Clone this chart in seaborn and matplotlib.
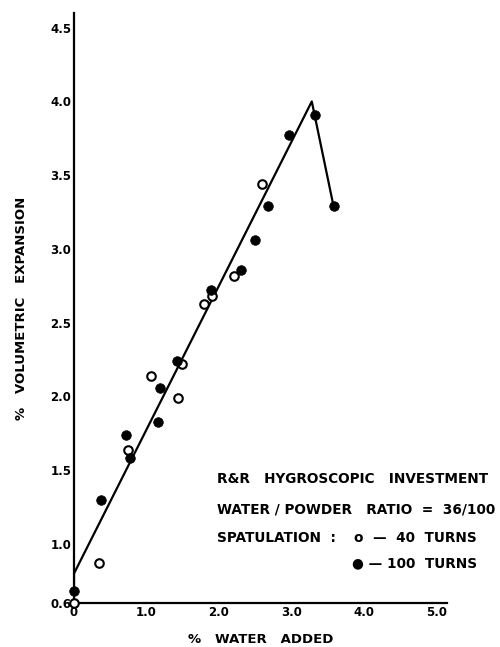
import matplotlib
matplotlib.use("Agg")
import matplotlib.pyplot as plt
import seaborn as sns
import pandas as pd

# % water added / % volumetric expansion, 40-turn spatulation (open circles)
water_40 = [0.00, 0.34, 0.74, 1.06, 1.44, 1.49, 1.79, 1.91, 2.21, 2.59]
expansion_40 = [0.60, 0.87, 1.64, 2.14, 1.99, 2.22, 2.63, 2.68, 2.82, 3.44]

# 100-turn spatulation (filled circles)
water_100 = [0.00, 0.37, 0.72, 0.77, 1.16, 1.19, 1.42, 1.89, 2.30, 2.49,
             2.67, 2.97, 3.32, 3.58]
expansion_100 = [0.68, 1.30, 1.74, 1.58, 1.83, 2.06, 2.24, 2.72, 2.86, 3.06,
                 3.29, 3.77, 3.91, 3.29]

# hand-fitted curve: rising straight line to the peak, then the drop-off
curve_water = [0.00, 0.00, 3.28, 3.58]
curve_expansion = [0.68, 0.80, 4.00, 3.29]

x_ticks = [0.0, 1.0, 2.0, 3.0, 4.0, 5.0]
x_tick_labels = ["0", "1.0", "2.0", "3.0", "4.0", "5.0"]
y_ticks = [0.6, 1.0, 1.5, 2.0, 2.5, 3.0, 3.5, 4.0, 4.5]
y_tick_labels = ["0.6", "1.0", "1.5", "2.0", "2.5", "3.0", "3.5", "4.0", "4.5"]

points = pd.DataFrame({
    "water": water_40 + water_100,
    "expansion": expansion_40 + expansion_100,
    "turns": ["40"] * len(water_40) + ["100"] * len(water_100),
})
curve = pd.DataFrame({"water": curve_water, "expansion": curve_expansion})

sns.set_style("white")
plt.rcParams["font.family"] = ["DejaVu Sans"]
plt.rcParams["font.weight"] = "bold"
plt.rcParams["text.color"] = "black"
plt.rcParams["axes.labelcolor"] = "black"

fig = plt.figure(figsize=(5.0, 6.47), dpi=100)
ax = fig.add_axes([0.148, 0.068, 0.746, 0.912])

sns.lineplot(data=curve, x="water", y="expansion", sort=False,
             color="black", linewidth=1.6, ax=ax, estimator=None)

open_pts = points[points["turns"] == "40"]
filled_pts = points[points["turns"] == "100"]
sns.scatterplot(data=open_pts, x="water", y="expansion", ax=ax,
                marker="o", s=38, facecolor="white", edgecolor="black",
                linewidth=1.5, zorder=3, clip_on=False, legend=False)
sns.scatterplot(data=filled_pts, x="water", y="expansion", ax=ax,
                marker="o", s=48, color="black", edgecolor="black",
                linewidth=0.5, zorder=4, clip_on=False, legend=False)

ax.set_xlim(0, 5.145)
ax.set_ylim(0.6, 4.6)

for side in ("top", "right"):
    ax.spines[side].set_visible(False)
for side in ("left", "bottom"):
    ax.spines[side].set_linewidth(1.6)
    ax.spines[side].set_color("black")

ax.set_xticks(x_ticks)
ax.set_xticklabels(x_tick_labels, fontsize=8.5, fontweight="bold")
ax.set_xticks([0.5, 1.5, 2.5, 3.5, 4.5], minor=True)
ax.set_yticks(y_ticks)
ax.set_yticklabels(y_tick_labels, fontsize=8.5, fontweight="bold")

ax.tick_params(axis="x", which="major", direction="in", length=9, width=1.2,
               pad=2, colors="black")
ax.tick_params(axis="x", which="minor", direction="in", length=5.5, width=1.2,
               colors="black")
ax.tick_params(axis="y", which="major", direction="in", length=9.5, width=1.2,
               pad=2, colors="black")
# no tick mark at the origin value of the y axis
ax.yaxis.get_major_ticks()[0].tick1line.set_visible(False)

ax.set_xlabel("%   WATER   ADDED", fontsize=9.5, fontweight="bold",
              labelpad=10, color="black")
ax.set_ylabel("%   VOLUMETRIC   EXPANSION", fontsize=9.5, fontweight="bold",
              labelpad=16, color="black")

note_kw = dict(fontsize=9.8, fontweight="bold", va="center", color="black")
ax.text(1.97, 1.44, "R&R   HYGROSCOPIC   INVESTMENT", ha="left", **note_kw)
ax.text(1.97, 1.237, "WATER / POWDER   RATIO  =  36/100", ha="left", **note_kw)
ax.text(1.97, 1.04, "SPATULATION  :", ha="left", **note_kw)
ax.text(5.56, 1.04, "o  —  40  TURNS", ha="right", **note_kw)
ax.text(5.56, 0.87, "● — 100  TURNS", ha="right", **note_kw)

fig.savefig("out.png", dpi=100)
